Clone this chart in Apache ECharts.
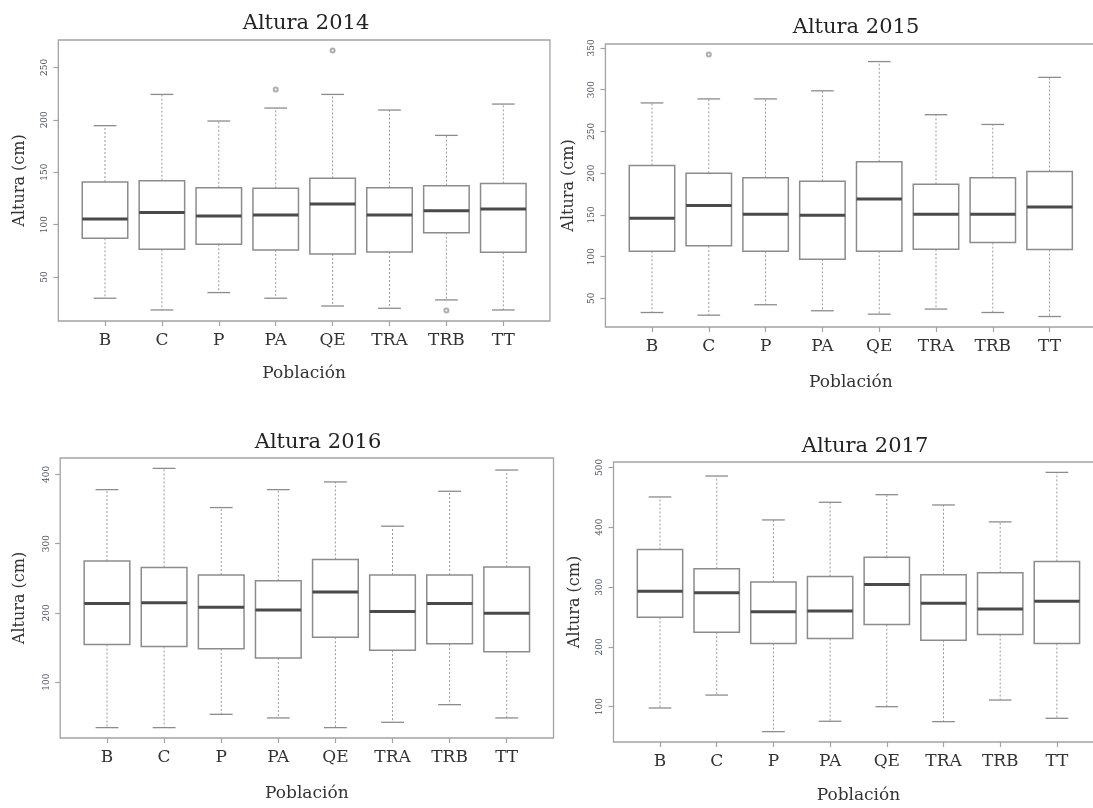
<!DOCTYPE html>
<html>
<head>
<meta charset="utf-8">
<script src="https://cdn.jsdelivr.net/npm/echarts@6/dist/echarts.min.js"></script>
<style>
  html, body { margin: 0; padding: 0; background: #fff; }
  #chart { width: 1093px; height: 808px; }
</style>
</head>
<body>
<div id="chart"></div>
<script>
// Populations on the x axis
const categories = ['B', 'C', 'P', 'PA', 'QE', 'TRA', 'TRB', 'TT'];

// Box statistics per population: [lower whisker, Q1, median, Q3, upper whisker]
const stats2014 = [
  [29.7, 86.9, 105.3, 140.6, 194.4],
  [18.5, 76.4, 111.4, 141.9, 224.2],
  [35.1, 81.2, 108.2, 135.2, 198.8],
  [29.7, 75.8, 109.1, 134.6, 211.2],
  [22.3, 71.9, 119.6, 144.1, 224.2],
  [20.1, 73.8, 109.1, 135.2, 209.3],
  [28.1, 92.3, 113.3, 137.1, 185.1],
  [18.5, 73.5, 114.9, 139.3, 215.0]
];
const stats2015 = [
  [33.0, 106.3, 145.8, 209.0, 284.0],
  [29.8, 112.8, 161.1, 199.8, 288.8],
  [42.3, 106.3, 150.6, 194.5, 288.8],
  [35.1, 96.7, 149.4, 190.1, 298.5],
  [31.0, 106.3, 168.8, 213.5, 333.5],
  [37.1, 108.8, 150.6, 186.5, 269.9],
  [33.0, 116.8, 150.6, 194.5, 258.2],
  [28.2, 108.4, 159.5, 201.8, 314.6]
];
const stats2016 = [
  [34.2, 154.2, 213.3, 274.7, 377.9],
  [34.2, 151.4, 214.7, 265.6, 408.6],
  [53.4, 148.0, 208.0, 254.6, 352.0],
  [48.2, 134.6, 204.2, 246.4, 377.9],
  [34.2, 164.8, 230.1, 277.1, 389.0],
  [41.9, 146.1, 201.8, 254.6, 325.1],
  [67.4, 155.2, 213.3, 254.6, 375.5],
  [48.2, 143.7, 199.4, 266.1, 406.2]
];
const stats2017 = [
  [97.8, 249.4, 292.8, 362.8, 450.6],
  [119.4, 224.4, 290.6, 330.6, 485.6],
  [58.3, 205.6, 258.9, 308.3, 412.2],
  [75.6, 213.9, 260.0, 317.8, 441.7],
  [100.0, 237.2, 304.4, 350.0, 454.4],
  [75.0, 211.1, 272.8, 320.6, 437.2],
  [111.1, 220.6, 263.3, 323.9, 408.9],
  [80.6, 205.6, 276.1, 342.8, 491.7]
];

// Outlying observations: [population index, height]
const outliers2014 = [[3, 229.0], [4, 266.2], [6, 17.9]];
const outliers2015 = [[1, 342.0]];
const outliers2016 = [];
const outliers2017 = [];

// Tick values of each height axis
const ticks2014 = [50, 100, 150, 200, 250];
const ticks2015 = [50, 100, 150, 200, 250, 300, 350];
const ticks2016 = [100, 200, 300, 400];
const ticks2017 = [100, 200, 300, 400, 500];

const titles = ['Altura 2014', 'Altura 2015', 'Altura 2016', 'Altura 2017'];
const yName = 'Altura (cm)';
const xName = 'Población';

// Panel geometry: first category centre (bx), category spacing (s), frame top/bottom,
// extra frame width past the page edge, title centre/top, axis name gaps.
const panels = [
  { stats: stats2014, out: outliers2014, ticks: ticks2014, bx: 105, s: 56.9, top: 40,  bottom: 321, extra: 0,  tx: 301, ty: 8,   yGap: 30, xGap: 44 },
  { stats: stats2015, out: outliers2015, ticks: ticks2015, bx: 652, s: 56.8, top: 44,  bottom: 327, extra: 30, tx: 851, ty: 12,  yGap: 29, xGap: 47 },
  { stats: stats2016, out: outliers2016, ticks: ticks2016, bx: 107, s: 57.1, top: 458, bottom: 738, extra: 0,  tx: 313, ty: 427, yGap: 32, xGap: 47 },
  { stats: stats2017, out: outliers2017, ticks: ticks2017, bx: 660, s: 56.7, top: 462, bottom: 742, extra: 30, tx: 860, ty: 431, yGap: 31, xGap: 45 }
];

const SERIF = '"DejaVu Serif", "Liberation Serif", serif';
const FRAME = '#a3a3a3';
const BOX = '#8c8c8c';
const MEDIAN = '#4a4a4a';

// Value range padded by 4% on each side, as in base graphics
function paddedRange(stats, out) {
  let lo = Infinity, hi = -Infinity;
  stats.forEach(r => { lo = Math.min(lo, r[0]); hi = Math.max(hi, r[4]); });
  out.forEach(o => { lo = Math.min(lo, o[1]); hi = Math.max(hi, o[1]); });
  const pad = (hi - lo) * 0.04;
  return [lo - pad, hi + pad];
}

function renderBox(params, api) {
  const i = api.value(0);
  const low = api.coord([i, api.value(1)]);
  const q1 = api.coord([i, api.value(2)]);
  const med = api.coord([i, api.value(3)]);
  const q3 = api.coord([i, api.value(4)]);
  const high = api.coord([i, api.value(5)]);
  const band = api.size([1, 0])[0];
  const bw = band * 0.8;
  const cw = bw * 0.5;
  const cx = med[0];
  const dash = { stroke: '#9a9a9a', lineWidth: 1, lineDash: [2, 2] };
  const solid = { stroke: BOX, lineWidth: 1.3 };
  return {
    type: 'group',
    children: [
      { type: 'line', shape: { x1: cx, y1: q3[1], x2: cx, y2: high[1] }, style: dash },
      { type: 'line', shape: { x1: cx, y1: q1[1], x2: cx, y2: low[1] }, style: dash },
      { type: 'line', shape: { x1: cx - cw / 2, y1: high[1], x2: cx + cw / 2, y2: high[1] }, style: solid },
      { type: 'line', shape: { x1: cx - cw / 2, y1: low[1], x2: cx + cw / 2, y2: low[1] }, style: solid },
      { type: 'rect', shape: { x: cx - bw / 2, y: q3[1], width: bw, height: q1[1] - q3[1] },
        style: { fill: '#fff', stroke: BOX, lineWidth: 1.5 } },
      { type: 'line', shape: { x1: cx - bw / 2, y1: med[1], x2: cx + bw / 2, y2: med[1] },
        style: { stroke: MEDIAN, lineWidth: 3 } }
    ]
  };
}

const option = {
  animation: false,
  backgroundColor: '#fff',
  title: [],
  grid: [],
  xAxis: [],
  yAxis: [],
  series: []
};

panels.forEach((p, k) => {
  const range = paddedRange(p.stats, p.out);
  const height = p.bottom - p.top;
  const frameLeft = p.bx - 0.82 * p.s;
  const dataLeft = p.bx - 0.5 * p.s;
  const gFrame = 2 * k, gData = 2 * k + 1;

  option.title.push({
    text: titles[k], left: p.tx, top: p.ty, textAlign: 'center',
    textStyle: { fontFamily: SERIF, fontSize: 21, fontWeight: 'normal', color: '#222' }
  });

  // outer frame carrying the height axis
  option.grid.push({
    left: frameLeft, top: p.top, width: 8.64 * p.s + p.extra, height: height,
    outerBoundsMode: 'none', containLabel: false,
    show: true, borderColor: FRAME, borderWidth: 1.3, backgroundColor: 'transparent'
  });
  // inner plotting area aligned with the categories
  option.grid.push({
    left: dataLeft, top: p.top, width: 8 * p.s, height: height,
    outerBoundsMode: 'none', containLabel: false
  });

  option.xAxis.push({ type: 'value', gridIndex: gFrame, show: false, min: 0, max: 1 });
  option.xAxis.push({
    type: 'category', gridIndex: gData, data: categories, boundaryGap: true,
    axisLine: { show: false },
    axisTick: { show: true, alignWithLabel: true, interval: 0, length: 5, lineStyle: { color: FRAME, width: 1.2 } },
    axisLabel: { interval: 0, margin: 11, fontFamily: SERIF, fontSize: 17, color: '#333' },
    splitLine: { show: false },
    name: xName, nameLocation: 'middle', nameGap: p.xGap,
    nameTextStyle: { fontFamily: SERIF, fontSize: 17, color: '#333' }
  });

  option.yAxis.push({
    type: 'value', gridIndex: gFrame, min: range[0], max: range[1],
    axisLine: { show: false },
    axisTick: { show: true, customValues: p.ticks, length: 5, lineStyle: { color: FRAME, width: 1.2 } },
    axisLabel: { customValues: p.ticks, rotate: 90, margin: 9, fontFamily: SERIF, fontSize: 9, color: '#4a5060' },
    splitLine: { show: false },
    name: yName, nameLocation: 'middle', nameGap: p.yGap, nameRotate: 90,
    nameTextStyle: { fontFamily: SERIF, fontSize: 16, color: '#333' }
  });
  option.yAxis.push({ type: 'value', gridIndex: gData, min: range[0], max: range[1], show: false });

  option.series.push({
    type: 'custom', xAxisIndex: gData, yAxisIndex: gData,
    data: p.stats.map((r, i) => [i].concat(r)),
    encode: { x: 0, y: [1, 2, 3, 4, 5] },
    renderItem: renderBox
  });
  option.series.push({
    type: 'scatter', xAxisIndex: gData, yAxisIndex: gData,
    data: p.out, symbol: 'emptyCircle', symbolSize: 4,
    itemStyle: { color: '#9a9a9a', borderWidth: 1 }
  });
});

const chart = echarts.init(document.getElementById('chart'), null, { renderer: 'canvas' });
chart.setOption(option);
</script>
</body>
</html>
